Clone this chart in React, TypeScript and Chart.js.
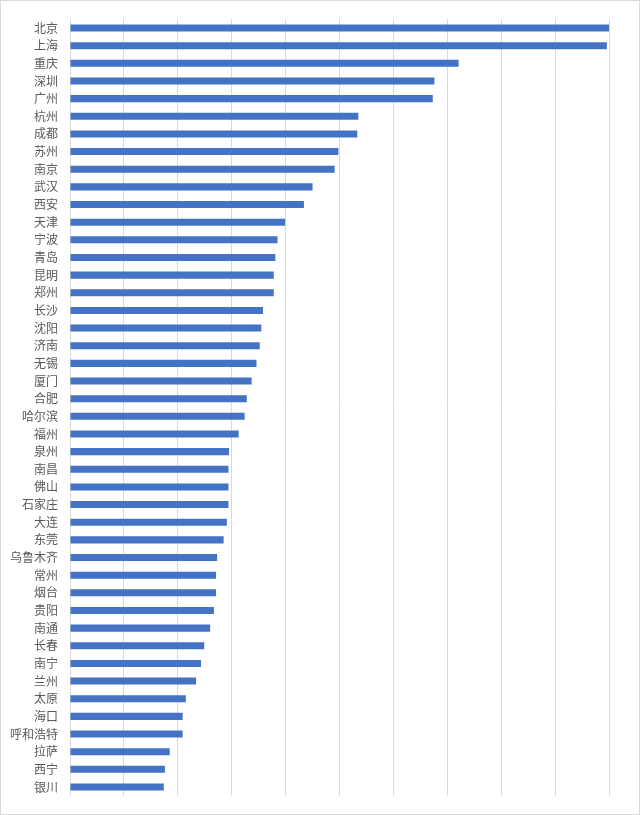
import React, { useEffect, useRef } from "react";
import { Chart, registerables } from "chart.js";

Chart.register(...registerables);

const cities: string[] = [
  "北京", "上海", "重庆", "深圳", "广州", "杭州", "成都", "苏州", "南京", "武汉",
  "西安", "天津", "宁波", "青岛", "昆明", "郑州", "长沙", "沈阳", "济南", "无锡",
  "厦门", "合肥", "哈尔滨", "福州", "泉州", "南昌", "佛山", "石家庄", "大连", "东莞",
  "乌鲁木齐", "常州", "烟台", "贵阳", "南通", "长春", "南宁", "兰州", "太原", "海口",
  "呼和浩特", "拉萨", "西宁", "银川",
];

const values: number[] = [
  10.0, 9.96, 7.21, 6.76, 6.73, 5.35, 5.33, 4.98, 4.91, 4.5,
  4.34, 3.99, 3.85, 3.81, 3.78, 3.78, 3.58, 3.55, 3.52, 3.46,
  3.37, 3.28, 3.24, 3.13, 2.95, 2.94, 2.94, 2.94, 2.91, 2.85,
  2.73, 2.71, 2.71, 2.67, 2.6, 2.49, 2.43, 2.34, 2.15, 2.09,
  2.09, 1.85, 1.76, 1.74,
];

const xMin = 0;
const xMax = 10;
const xStep = 1;

export default function App() {
  const ref = useRef<HTMLCanvasElement>(null);

  useEffect(() => {
    if (!ref.current) return;
    const chart = new Chart(ref.current, {
      type: "bar",
      data: {
        labels: cities,
        datasets: [
          {
            data: values,
            backgroundColor: "#4472C4",
            borderWidth: 0,
            barPercentage: 0.4,
            categoryPercentage: 1,
          },
        ],
      },
      options: {
        indexAxis: "y",
        animation: false,
        responsive: false,
        devicePixelRatio: 1,
        layout: { padding: { left: 10, right: 31, top: 18, bottom: 13 } },
        plugins: {
          legend: { display: false },
          tooltip: { enabled: false },
        },
        scales: {
          x: {
            min: xMin,
            max: xMax,
            afterFit: (scale: any) => {
              scale.height = 0;
            },
            ticks: { display: false, stepSize: xStep },
            grid: { color: "#d9d9d9", lineWidth: 1, drawTicks: false },
            border: { display: false },
          },
          y: {
            afterFit: (scale: any) => {
              scale.width = 60;
            },
            ticks: {
              color: "#595959",
              padding: 12,
              autoSkip: false,
              font: { family: "'Noto Sans CJK SC', sans-serif", size: 12 },
            },
            grid: { display: false, drawTicks: false },
            border: { display: false },
          },
        },
      },
    });
    return () => chart.destroy();
  }, []);

  return (
    <div
      style={{
        position: "fixed",
        left: 0,
        top: 0,
        width: 640,
        height: 815,
        background: "#ffffff",
      }}
    >
      <canvas
        ref={ref}
        width={640}
        height={815}
        style={{ position: "absolute", left: 0, top: 0, width: 640, height: 815 }}
      />
      <div
        style={{
          position: "absolute",
          left: 0,
          top: 0,
          width: 640,
          height: 815,
          boxSizing: "border-box",
          border: "1px solid #d9d9d9",
          pointerEvents: "none",
        }}
      />
    </div>
  );
}
